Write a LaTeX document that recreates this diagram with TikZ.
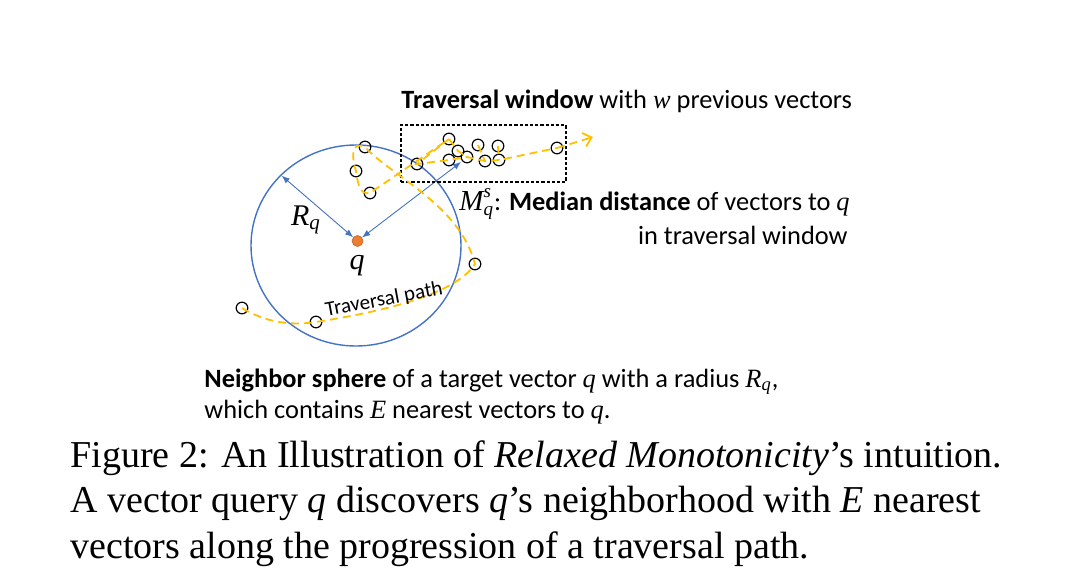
\documentclass[tikz,border=0pt]{standalone}
\usepackage{fontspec}
\setmainfont{Carlito}
\newfontfamily\capfont{Liberation Serif}
\usepackage{xcolor}
\usetikzlibrary{arrows.meta}
\definecolor{sphereblue}{HTML}{4472C4}
\definecolor{pathyellow}{HTML}{FFC000}
\definecolor{queryorange}{HTML}{ED7D31}
\newcommand\mi[1]{{\capfont\itshape #1}}

\begin{document}
\begin{tikzpicture}[
  x=0.5pt,y=-0.5pt,
  vec/.style={circle,draw,line width=0.6pt,inner sep=0pt,minimum size=5.8pt},
  trav/.style={pathyellow,line width=0.9pt,dash pattern=on 4pt off 2.5pt},
  radius/.style={sphereblue,line width=0.45pt,{Latex[length=4pt,width=3.2pt]}-{Latex[length=4pt,width=3.2pt]}},
  label/.style={anchor=base west,inner sep=0pt,font=\fontsize{13.2}{15}\selectfont},
  caption/.style={anchor=base west,inner sep=0pt,font=\capfont\fontsize{19}{22}\selectfont}
]
  \useasboundingbox (0,0) rectangle (1080,584);

  % neighbor sphere and query
  \draw[sphereblue,line width=0.7pt] (356,245.5) ellipse [x radius=105,y radius=100.5];
  \node[circle,fill=queryorange,draw=queryorange!80!black,line width=0.3pt,inner sep=0pt,minimum size=5.5pt] (q) at (357.5,241) {};
  \coordinate (rim) at (281.7,175.7);
  \coordinate (med) at (461,162);
  \draw[radius] (rim) -- (q);
  \draw[radius] (med) -- (q);

  % traversal window
  \node[draw,dashed,dash pattern=on 1.6pt off 1pt,line width=0.55pt,minimum width=82.5pt,minimum height=28.5pt,inner sep=0pt] (window) at (483.5,153.5) {};

  % vectors on the path
  \node[vec] (v1) at (242,308) {};
  \node[vec] (v2) at (316,322) {};
  \node[vec] (v3) at (475,264) {};
  \node[vec] (v4) at (365,147) {};
  \node[vec] (v5) at (356,171) {};
  \node[vec] (v6) at (370,193) {};
  \node[vec] (v7) at (417,164) {};
  \node[vec] (v8) at (449,139) {};
  \node[vec] (v9) at (458,151) {};
  \node[vec] (v10) at (449,160) {};
  \node[vec] (v11) at (467,157) {};
  \node[vec] (v12) at (478,145) {};
  \node[vec] (v13) at (485,161) {};
  \node[vec] (v14) at (498,146) {};
  \node[vec] (v15) at (499,160) {};
  \node[vec] (v16) at (557,148) {};
  \coordinate (end) at (593,137);

  % traversal path
  \draw[trav] (v1.center) .. controls (265,322) and (290,326) .. (v2.center)
    .. controls (380,312) and (455,295) .. (v3.center)
    .. controls (460,205) and (390,175) .. (v4.center)
    .. controls (350,140) and (352,160) .. (v5.center)
    .. controls (358,185) and (360,195) .. (v6.center)
    -- (v8.center) -- (v7.center) -- (v10.center) -- (v11.center)
    -- (v13.center) -- (v15.center) -- (v16.center);
  \draw[trav,-{Straight Barb[length=4pt,width=7pt]}] (v16.center) -- (end);
  \draw[trav] (v8.center) -- (v9.center) -- (v11.center);
  \draw[trav] (v12.center) -- (v13.center);
  \draw[trav] (v14.center) -- (v15.center);

  % labels
  \node[label] (wintxt) at (401,108) {\textbf{Traversal window} with \mi{w} previous vectors};
  \node[label] (medtxt) at (459,210) {$\mbox{\fontsize{14.5}{16}\selectfont\mi{M}}^{\mbox{\fontsize{9.5}{10}\selectfont\mi{s}}}_{\mbox{\fontsize{9.5}{10}\selectfont\mi{q}}}$: \textbf{Median distance} of vectors to \mi{q}};
  \node[label,anchor=base east] (medtxt2) at (848,244) {in traversal window};
  \node[font=\fontsize{15}{17}\selectfont] (rq) at (306,220) {\mi{R}\textsubscript{\mi{q}}};
  \node[font=\fontsize{15}{17}\selectfont] (qtxt) at (357,266) {\mi{q}};
  \node[font=\fontsize{10.5}{12}\selectfont,rotate=10.5] (pathtxt) at (384,300) {Traversal path};
  \node[label] (sphtxt) at (204,387) {\textbf{Neighbor sphere} of a target vector \mi{q} with a radius \mi{R}\textsubscript{\mi{q}},};
  \node[label] (sphtxt2) at (204,418) {which contains \mi{E} nearest vectors to \mi{q}.};

  % caption
  \node[caption] (cap1) at (70,467) {Figure 2: An Illustration of \textit{Relaxed Monotonicity}’s intuition.};
  \node[caption] (cap2) at (70,512) {A vector query \textit{q} discovers \textit{q}’s neighborhood with \textit{E} nearest};
  \node[caption] (cap3) at (70,558) {vectors along the progression of a traversal path.};
\end{tikzpicture}
\end{document}
